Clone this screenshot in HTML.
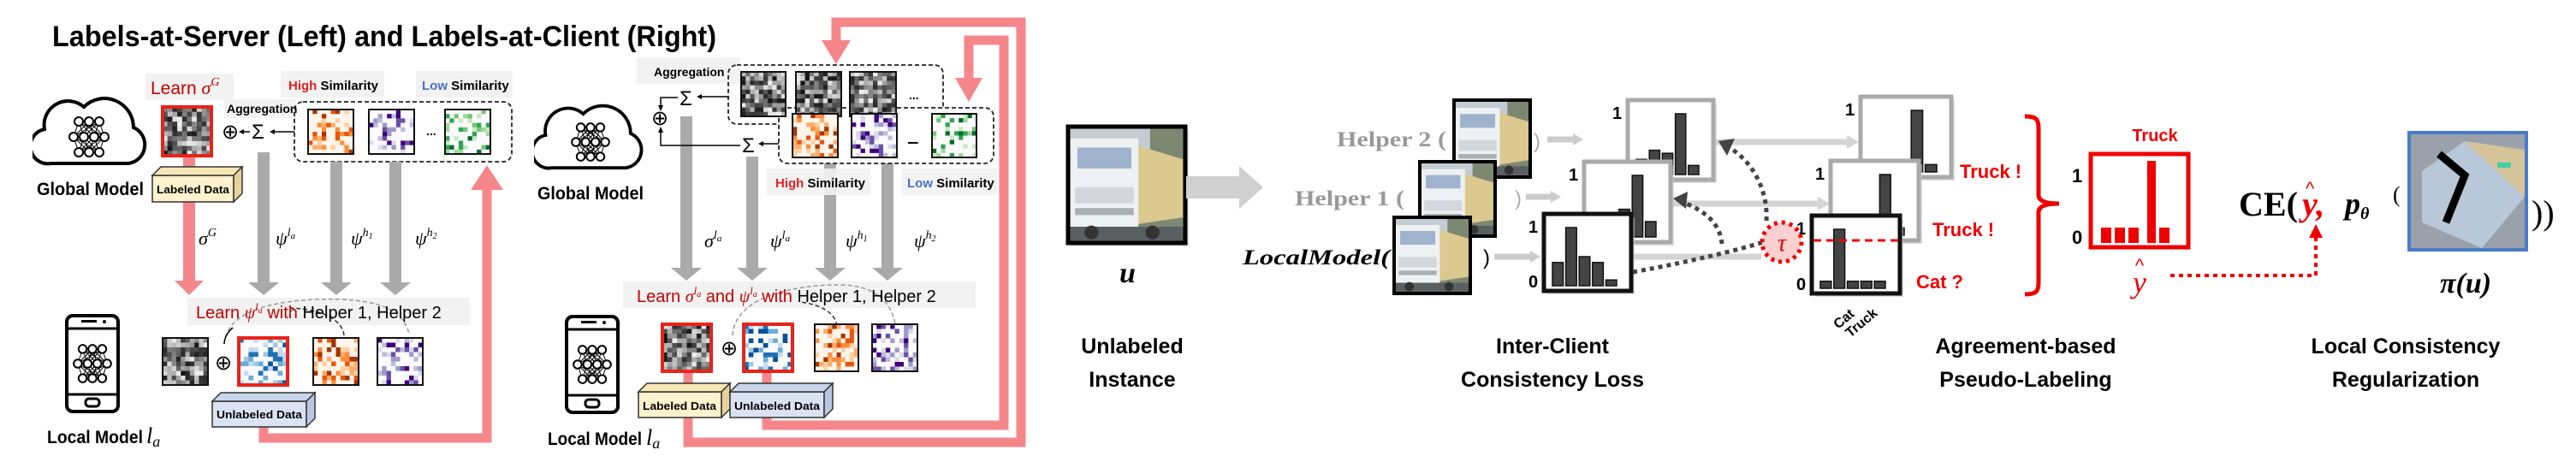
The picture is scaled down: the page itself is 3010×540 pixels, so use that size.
<!DOCTYPE html>
<html><head><meta charset="utf-8"><style>
html,body{margin:0;padding:0;background:#fff;width:3010px;height:540px;overflow:hidden}
svg{display:block}
.b{font-family:"Liberation Sans",sans-serif;font-weight:bold}
.s{font-family:"Liberation Sans",sans-serif}
.m{font-family:"Liberation Serif",serif;font-style:italic}
</style></head><body>
<svg id="S" width="3010" height="540" viewBox="0 0 3010 540" xmlns="http://www.w3.org/2000/svg">
<defs>
<symbol id="truck" viewBox="0 0 100 100" preserveAspectRatio="none">
<rect width="100" height="100" fill="#7d8873"/>
<rect width="70" height="25" fill="#c3ccd2"/>
<polygon points="55,15 98,28 98,78 58,84" fill="#dcc98f"/>
<rect x="2" y="10" width="58" height="78" fill="#eef1f3"/>
<rect x="8" y="18" width="46" height="18" fill="#9fb3cc"/>
<rect x="6" y="52" width="50" height="14" fill="#d3d7db"/>
<rect x="6" y="70" width="50" height="6" fill="#aab0b6"/>
<rect x="0" y="86" width="100" height="14" fill="#5a5f62"/>
<circle cx="20" cy="91" r="6" fill="#333"/><circle cx="72" cy="91" r="6" fill="#333"/>
</symbol>
<symbol id="cloud" viewBox="0 0 140 90">
<path d="M22,86 H112 A22,22 0 0 0 118,44 A34,34 0 0 0 60,20 A28,28 0 0 0 14,46 A20,20 0 0 0 22,86 Z" fill="#fff" stroke="#000" stroke-width="4"/>
</symbol>
<symbol id="phone" viewBox="0 0 66 118">
<rect x="3" y="3" width="60" height="112" rx="7" fill="#fff" stroke="#000" stroke-width="4"/>
<line x1="3" y1="18" x2="63" y2="18" stroke="#000" stroke-width="3"/>
<line x1="3" y1="95" x2="63" y2="95" stroke="#000" stroke-width="3"/>
<rect x="20" y="8" width="18" height="3" fill="#000"/><circle cx="47" cy="10" r="2" fill="#000"/>
<rect x="25" y="100" width="16" height="9" rx="4" fill="none" stroke="#000" stroke-width="3"/>
</symbol>
</defs>

<text x="61" y="54" class="b" font-size="34" textLength="776" lengthAdjust="spacingAndGlyphs">Labels-at-Server (Left)  and  Labels-at-Client (Right)</text>

<!-- LEFT PANEL -->
<use href="#cloud" x="38" y="105" width="140" height="90"/>
<g id="nn1"></g>
<text x="43" y="228" class="b" font-size="21" textLength="125" lengthAdjust="spacingAndGlyphs">Global Model</text>
<rect x="170" y="86" width="103" height="31" fill="#f2f2f2"/>
<text x="176" y="110" class="s" font-size="21" fill="#c00000">Learn <tspan class="m" font-size="22">σ</tspan><tspan class="m" font-size="14" dy="-10">G</tspan></text>
<rect x="328" y="83" width="121" height="31" fill="#f2f2f2"/>
<text x="337" y="105" class="b" font-size="15"><tspan fill="#e02020">High</tspan> Similarity</text>
<rect x="486" y="83" width="113" height="31" fill="#f2f2f2"/>
<text x="493" y="105" class="b" font-size="15"><tspan fill="#4472c4">Low</tspan> Similarity</text>
<rect x="262" y="116" width="84" height="22" fill="#f2f2f2"/>
<text x="265" y="132" class="b" font-size="14">Aggregation</text>
<rect x="344" y="119" width="254" height="70" rx="10" fill="none" stroke="#222" stroke-width="1.8" stroke-dasharray="5,3"/>
<text x="259" y="162" class="s" font-size="24">⊕</text>
<text x="294" y="162" class="s" font-size="24">Σ</text>
<line x1="292" y1="154" x2="282" y2="154" stroke="#000" stroke-width="1.5"/><polygon points="279,154 285,151 285,157"/>
<line x1="344" y1="154" x2="318" y2="154" stroke="#000" stroke-width="1.5"/><polygon points="315,154 321,151 321,157"/>

<polygon points="214,182 228,182 228,328 238,328 221,345 204,328 214,328" fill="#f5878b"/>
<polygon points="301,178 315,178 315,330 326,330 308,345 290,330 301,330" fill="#aaa"/>
<polygon points="386,189 400,189 400,330 411,330 393,345 375,330 386,330" fill="#aaa"/>
<polygon points="455,189 469,189 469,330 480,330 462,345 444,330 455,330" fill="#aaa"/>
<polyline points="308,498 308,512 569,512 569,218" fill="none" stroke="#f5878b" stroke-width="11"/>
<polygon points="569,193 588,222 550,222" fill="#f5878b"/>

<rect x="178" y="205" width="95" height="31" fill="#fff2cc" stroke="#333" stroke-width="1.5"/>
<polygon points="178,205 188,195 283,195 273,205" fill="#f8e7b5" stroke="#333" stroke-width="1.5"/>
<polygon points="273,205 283,195 283,226 273,236" fill="#e6d39c" stroke="#333" stroke-width="1.5"/>
<text x="183" y="226" class="b" font-size="13" textLength="85" lengthAdjust="spacingAndGlyphs">Labeled Data</text>

<text x="232" y="286" class="m" font-size="22">σ<tspan font-size="14" dy="-10">G</tspan></text>
<text x="322" y="286" class="m" font-size="22">ψ<tspan font-size="14" dy="-10">l<tspan font-size="11" dy="3">a</tspan></tspan></text>
<text x="410" y="286" class="m" font-size="22">ψ<tspan font-size="14" dy="-10">h<tspan font-size="10" dy="3">1</tspan></tspan></text>
<text x="485" y="286" class="m" font-size="22">ψ<tspan font-size="14" dy="-10">h<tspan font-size="10" dy="3">2</tspan></tspan></text>

<rect x="219" y="348" width="330" height="32" fill="#f2f2f2"/>
<path d="M262,402 C265,360 330,348 400,350 C440,352 470,360 478,390" fill="none" stroke="#999" stroke-width="1.5" stroke-dasharray="5,3"/>
<path d="M262,402 C262,395 266,388 272,383" fill="none" stroke="#000" stroke-width="1.5"/>
<path d="M402,392 C400,375 380,362 340,360" fill="none" stroke="#333" stroke-width="1.5" stroke-dasharray="5,3"/>
<text x="229" y="372" class="s" font-size="20"><tspan fill="#c00000">Learn </tspan><tspan class="m" fill="#c00000">ψ</tspan><tspan class="m" font-size="13" dy="-9" fill="#c00000">l</tspan><tspan class="m" font-size="10" dy="3" fill="#c00000">a</tspan><tspan dy="6" fill="#c00000">  with </tspan>Helper 1, Helper 2</text>
<text x="251" y="432" class="s" font-size="24">⊕</text>
<use href="#phone" x="75" y="366" width="66" height="118"/>
<g id="nn3"></g>
<text x="55" y="518" class="b" font-size="21" textLength="112" lengthAdjust="spacingAndGlyphs">Local Model</text>
<text x="171" y="518" class="m" font-size="26">l<tspan font-size="18" dy="4">a</tspan></text>

<rect x="248" y="469" width="110" height="30" fill="#dae3f3" stroke="#333" stroke-width="1.5"/>
<polygon points="248,469 258,459 368,459 358,469" fill="#c9d5ec" stroke="#333" stroke-width="1.5"/>
<polygon points="358,469 368,459 368,489 358,499" fill="#b9c7e2" stroke="#333" stroke-width="1.5"/>
<text x="253" y="489" class="b" font-size="13" textLength="100" lengthAdjust="spacingAndGlyphs">Unlabeled Data</text>

<!-- RIGHT PANEL -->
<use href="#cloud" x="624" y="114" width="134" height="86"/>
<g id="nn2"></g>
<text x="628" y="233" class="b" font-size="21" textLength="124" lengthAdjust="spacingAndGlyphs">Global Model</text>
<rect x="744" y="67" width="121" height="31" fill="#f2f2f2"/>
<text x="764" y="89" class="b" font-size="14">Aggregation</text>
<rect x="851" y="76" width="251" height="69" rx="10" fill="none" stroke="#222" stroke-width="1.8" stroke-dasharray="5,3"/>
<polygon points="795,136 809,136 809,313 820,313 802,328 784,313 795,313" fill="#aaa"/>
<polygon points="872,183 886,183 886,313 897,313 879,328 861,313 872,313" fill="#aaa"/>
<polygon points="963,191 977,191 977,313 988,313 970,328 952,313 963,313" fill="#aaa"/>
<polygon points="1030,191 1044,191 1044,313 1055,313 1037,328 1019,313 1030,313" fill="#aaa"/>
<rect x="910" y="126" width="251" height="65" rx="10" fill="#fff" stroke="#222" stroke-width="1.8" stroke-dasharray="5,3"/>
<text x="794" y="123" class="s" font-size="24">Σ</text>
<text x="867" y="178" class="s" font-size="24">Σ</text>
<text x="761" y="146" class="s" font-size="24">⊕</text>
<polyline points="792,114 772,114 772,126" fill="none" stroke="#000" stroke-width="1.5"/><polygon points="772,130 769,123 775,123"/>
<polyline points="865,170 772,170 772,152" fill="none" stroke="#000" stroke-width="1.5"/><polygon points="772,148 769,155 775,155"/>
<line x1="851" y1="113" x2="818" y2="113" stroke="#000" stroke-width="1.5"/><polygon points="814,113 820,110 820,116"/>
<line x1="910" y1="168" x2="890" y2="168" stroke="#000" stroke-width="1.5"/><polygon points="886,168 892,165 892,171"/>
<text x="1062" y="116" class="b" font-size="14">...</text>
<text x="1062" y="168" class="b" font-size="14">...</text>
<rect x="896" y="197" width="121" height="31" fill="#f2f2f2" opacity=".9"/>
<text x="906" y="219" class="b" font-size="15"><tspan fill="#e02020">High</tspan> Similarity</text>
<rect x="1053" y="197" width="112" height="31" fill="#f2f2f2" opacity=".9"/>
<text x="1060" y="219" class="b" font-size="15"><tspan fill="#4472c4">Low</tspan> Similarity</text>

<text x="823" y="289" class="m" font-size="22">σ<tspan font-size="14" dy="-10">l<tspan font-size="11" dy="3">a</tspan></tspan></text>
<text x="900" y="289" class="m" font-size="22">ψ<tspan font-size="14" dy="-10">l<tspan font-size="11" dy="3">a</tspan></tspan></text>
<text x="988" y="289" class="m" font-size="22">ψ<tspan font-size="14" dy="-10">h<tspan font-size="10" dy="3">1</tspan></tspan></text>
<text x="1068" y="289" class="m" font-size="22">ψ<tspan font-size="14" dy="-10">h<tspan font-size="10" dy="3">2</tspan></tspan></text>

<rect x="728" y="329" width="412" height="31" fill="#f2f2f2"/>
<path d="M856,392 C858,350 920,333 980,333 C1020,333 1040,350 1046,378" fill="none" stroke="#999" stroke-width="1.5" stroke-dasharray="5,3"/>
<path d="M978,381 C976,366 960,356 935,353" fill="none" stroke="#333" stroke-width="1.5" stroke-dasharray="5,3"/>
<text x="744" y="353" class="s" font-size="20"><tspan fill="#c00000">Learn </tspan><tspan class="m" fill="#c00000">σ</tspan><tspan class="m" font-size="13" dy="-9" fill="#c00000">l</tspan><tspan class="m" font-size="10" dy="3" fill="#c00000">a</tspan><tspan dy="6" fill="#c00000"> and </tspan><tspan class="m" fill="#c00000">ψ</tspan><tspan class="m" font-size="13" dy="-9" fill="#c00000">l</tspan><tspan class="m" font-size="10" dy="3" fill="#c00000">a</tspan><tspan dy="6" fill="#c00000">  with </tspan>Helper 1, Helper 2</text>
<text x="842" y="415" class="s" font-size="24">⊕</text>

<polyline points="804,434 804,517 1193,517 1193,26 977,26 977,50" fill="none" stroke="#f5878b" stroke-width="11"/>
<polygon points="977,75 960,47 994,47" fill="#f5878b"/>
<polyline points="896,434 896,497 1173,497 1173,47 1132,47 1132,95" fill="none" stroke="#f5878b" stroke-width="11"/>
<polygon points="1132,119 1116,91 1148,91" fill="#f5878b"/>

<rect x="746" y="458" width="97" height="30" fill="#fff2cc" stroke="#333" stroke-width="1.5"/>
<polygon points="746,458 756,448 853,448 843,458" fill="#f8e7b5" stroke="#333" stroke-width="1.5"/>
<polygon points="843,458 853,448 853,478 843,488" fill="#e6d39c" stroke="#333" stroke-width="1.5"/>
<text x="751" y="479" class="b" font-size="13" textLength="86" lengthAdjust="spacingAndGlyphs">Labeled Data</text>
<rect x="853" y="458" width="110" height="30" fill="#dae3f3" stroke="#333" stroke-width="1.5"/>
<polygon points="853,458 863,448 973,448 963,458" fill="#c9d5ec" stroke="#333" stroke-width="1.5"/>
<polygon points="963,458 973,448 973,478 963,488" fill="#b9c7e2" stroke="#333" stroke-width="1.5"/>
<text x="858" y="479" class="b" font-size="13" textLength="100" lengthAdjust="spacingAndGlyphs">Unlabeled Data</text>

<use href="#phone" x="659" y="367" width="66" height="118"/>
<g id="nn4"></g>
<text x="640" y="520" class="b" font-size="21" textLength="110" lengthAdjust="spacingAndGlyphs">Local Model</text>
<text x="755" y="520" class="m" font-size="26">l<tspan font-size="18" dy="4">a</tspan></text>

<g id="mats"></g>

<!-- RIGHT FIGURE -->
<rect x="1252" y="152" width="137" height="136" fill="#ccc" opacity=".5"/>
<use href="#truck" x="1248" y="148" width="137" height="136"/>
<rect x="1248" y="148" width="137" height="136" fill="none" stroke="#000" stroke-width="5"/>
<text x="1308" y="330" font-family="Liberation Serif" font-style="italic" font-weight="bold" font-size="34">u</text>
<polygon points="1386,206 1448,206 1448,194 1476,219 1448,244 1448,232 1386,232" fill="#d0d0d0"/>
<text x="1323" y="413" class="b" font-size="25" text-anchor="middle">Unlabeled</text>
<text x="1323" y="452" class="b" font-size="25" text-anchor="middle">Instance</text>

<line x1="2004" y1="166" x2="2160" y2="166" stroke="#d4d4d4" stroke-width="7"/><polygon points="2172,166 2158,158 2158,174" fill="#d4d4d4"/>
<line x1="1954" y1="238" x2="2126" y2="238" stroke="#d4d4d4" stroke-width="7"/><polygon points="2138,238 2124,230 2124,246" fill="#d4d4d4"/>
<line x1="1908" y1="300" x2="2058" y2="300" stroke="#d4d4d4" stroke-width="7"/>

<text x="1562" y="171" font-family="Liberation Serif" font-weight="bold" font-size="25" fill="#999" textLength="128" lengthAdjust="spacingAndGlyphs">Helper 2 (</text>
<text x="1513" y="240" font-family="Liberation Serif" font-weight="bold" font-size="25" fill="#999" textLength="128" lengthAdjust="spacingAndGlyphs">Helper 1 (</text>
<text x="1452" y="309" font-family="Liberation Serif" font-style="italic" font-weight="bold" font-size="25" textLength="172" lengthAdjust="spacingAndGlyphs">LocalModel(</text>
<use href="#truck" x="1699" y="117" width="89" height="90"/><rect x="1699" y="117" width="89" height="90" fill="none" stroke="#000" stroke-width="4"/>
<text x="1792" y="173" class="s" font-size="24" fill="#aaa">)</text>
<line x1="1808" y1="163" x2="1840" y2="163" stroke="#ccc" stroke-width="7"/><polygon points="1850,163 1838,156 1838,170" fill="#ccc"/>
<use href="#truck" x="1659" y="189" width="88" height="87"/><rect x="1659" y="189" width="88" height="87" fill="none" stroke="#000" stroke-width="4"/>
<text x="1770" y="240" class="s" font-size="24" fill="#aaa">)</text>
<line x1="1783" y1="230" x2="1814" y2="230" stroke="#ccc" stroke-width="7"/><polygon points="1824,230 1812,223 1812,237" fill="#ccc"/>
<use href="#truck" x="1629" y="254" width="89" height="89"/><rect x="1629" y="254" width="89" height="89" fill="none" stroke="#000" stroke-width="4"/>
<text x="1733" y="309" class="s" font-size="24">)</text>
<line x1="1746" y1="300" x2="1790" y2="300" stroke="#ccc" stroke-width="7"/><polygon points="1800,300 1788,293 1788,307" fill="#ccc"/>

<g id="hists"></g>

<path d="M1908,318 C1980,305 2040,290 2070,280" fill="none" stroke="#444" stroke-width="5" stroke-dasharray="5,5"/>
<path d="M2012,285 C2010,260 1990,245 1965,236" fill="none" stroke="#444" stroke-width="5" stroke-dasharray="5,5"/>
<polygon points="1955,232 1972,224 1970,244" fill="#444"/>
<path d="M2064,258 C2066,225 2050,190 2020,172" fill="none" stroke="#444" stroke-width="5" stroke-dasharray="5,5"/>
<polygon points="2008,165 2027,162 2018,182" fill="#444"/>
<circle cx="2082" cy="283" r="23" fill="#fbd0d0" stroke="#e00" stroke-width="5" stroke-dasharray="4,5"/>
<text x="2082" y="293" text-anchor="middle" class="m" font-size="28" fill="#d00">τ</text>

<text x="1814" y="413" class="b" font-size="25" text-anchor="middle">Inter-Client</text>
<text x="1814" y="452" class="b" font-size="25" text-anchor="middle">Consistency Loss</text>

<text x="2148" y="385" class="b" font-size="16" transform="rotate(-40 2148 385)">Cat</text>
<text x="2162" y="395" class="b" font-size="16" transform="rotate(-40 2162 395)">Truck</text>
<text x="2290" y="208" class="b" font-size="22" fill="#e00">Truck !</text>
<text x="2258" y="276" class="b" font-size="22" fill="#e00">Truck !</text>
<text x="2239" y="337" class="b" font-size="22" fill="#e00">Cat ?</text>
<path d="M2366,136 C2380,136 2382,140 2382,150 L2382,228 C2382,234 2388,238 2406,238 C2388,238 2382,242 2382,248 L2382,330 C2382,340 2380,344 2366,344" fill="none" stroke="#e00" stroke-width="5"/>
<text x="2518" y="165" text-anchor="middle" class="b" font-size="20" fill="#e00">Truck</text>
<rect x="2443" y="180" width="114" height="109" fill="#fff" stroke="#e00" stroke-width="5"/>
<text x="2421" y="213" class="b" font-size="22">1</text>
<text x="2421" y="285" class="b" font-size="22">0</text>
<g fill="#e00">
<rect x="2455" y="266" width="12" height="18"/><rect x="2471" y="266" width="12" height="18"/><rect x="2487" y="266" width="12" height="18"/><rect x="2509" y="188" width="10" height="96"/><rect x="2523" y="266" width="12" height="18"/></g>
<text x="2500" y="342" text-anchor="middle" class="m" font-size="36" fill="#e00">y</text>
<text x="2500" y="318" text-anchor="middle" class="s" font-size="22" fill="#e00">^</text>
<polyline points="2536,322 2706,322 2706,275" fill="none" stroke="#e00" stroke-width="4" stroke-dasharray="5,5"/>
<polygon points="2706,262 2698,278 2714,278" fill="#e00"/>
<text x="2616" y="252" font-family="Liberation Serif" font-weight="bold" font-size="40">CE(</text>
<text x="2690" y="252" class="m" font-size="40" font-weight="bold" fill="#e00">y,</text>
<text x="2694" y="228" class="s" font-size="22" fill="#e00">^</text>
<text x="2740" y="250" class="m" font-size="36" font-weight="bold">p<tspan font-size="20" dy="6">θ</tspan></text>
<text x="2796" y="236" font-family="Liberation Serif" font-size="26">(</text>
<rect x="2815" y="155" width="137" height="137" fill="#9aa1aa" stroke="#4a7cc8" stroke-width="4"/>
<polygon points="2830,200 2880,165 2950,230 2900,290 2830,260" fill="#b8c8d8"/>
<polygon points="2880,165 2950,175 2950,230" fill="#d6c39a"/>
<polyline points="2850,180 2880,205 2858,260" fill="none" stroke="#000" stroke-width="9"/>
<rect x="2918" y="190" width="16" height="6" fill="#40d0a8"/>
<text x="2958" y="262" font-family="Liberation Serif" font-size="40">))</text>
<text x="2881" y="342" text-anchor="middle" font-family="Liberation Serif" font-style="italic" font-weight="bold" font-size="34">π(u)</text>

<text x="2367" y="413" class="b" font-size="25" text-anchor="middle">Agreement-based</text>
<text x="2367" y="452" class="b" font-size="25" text-anchor="middle">Pseudo-Labeling</text>
<text x="2811" y="413" class="b" font-size="25" text-anchor="middle">Local Consistency</text>
<text x="2811" y="452" class="b" font-size="25" text-anchor="middle">Regularization</text>
</svg>
<script>
(function(){
var NS="http://www.w3.org/2000/svg";
function el(p,t,a){var e=document.createElementNS(NS,t);for(var k in a)e.setAttribute(k,a[k]);p.appendChild(e);return e;}
var seed=7;function r(){seed=(seed*9301+49297)%233280;return seed/233280;}
var pals={
o:['#fdd0a2','#fdae6b','#fd8d3c','#e6550d','#a63603'],
p:['#dadaeb','#bcbddc','#9e9ac8','#6a51a3','#3f007d'],
g:['#c7e9c0','#a1d99b','#74c476','#31a354','#006d2c'],
b:['#c6dbef','#9ecae1','#6baed6','#2171b5','#08519c']};
var M=document.getElementById('mats');
function mat(x,y,w,h,pal,red){
 var n=10,cw=w/n,ch=h/n;
 for(var i=0;i<n;i++)for(var j=0;j<n;j++){
  var c;
  if(pal=='k'){var v=Math.floor(20+r()*220);c='rgb('+v+','+v+','+v+')';}
  else{var q=r();if(q<0.55)c=(pal=='o'?'#fff5eb':'#fbfbfd');
   else c=pals[pal][Math.floor(r()*5)];}
  el(M,'rect',{x:x+j*cw,y:y+i*ch,width:cw+0.3,height:ch+0.3,fill:c});
 }
 el(M,'rect',{x:x,y:y,width:w,height:h,fill:'none',stroke:red?'#e8231a':'#111','stroke-width':red?4:2});
}
mat(190,125,57,57,'k',1);
mat(360,128,53,52,'o');mat(431,128,53,52,'p');mat(520,128,53,52,'g');
el(M,'text',{x:498,y:158,'font-size':14,'font-weight':'bold','font-family':'Liberation Sans'}).textContent='...';
mat(190,395,53,55,'k');mat(279,395,57,55,'b',1);mat(366,395,53,55,'o');mat(441,395,53,55,'p');
mat(866,84,52,52,'k');mat(930,84,53,52,'k');mat(993,84,54,52,'k');
mat(926,133,53,51,'o');mat(995,133,53,51,'p');mat(1089,133,52,51,'g');
el(M,'text',{x:1060,y:168,'font-size':14,'font-weight':'bold','font-family':'Liberation Sans'}).textContent='...';
mat(774,379,57,55,'k',1);mat(869,379,57,55,'b',1);mat(952,379,51,55,'o');mat(1019,379,53,55,'p');
function nn(id,cx,cy,s){var g=document.getElementById(id);
 var L=[[-1,0,1],[-1.5,-0.5,0.5,1.5],[-1,0,1]];var pts=[];
 for(var l=0;l<3;l++){pts[l]=[];for(var k=0;k<L[l].length;k++)pts[l].push([cx+L[l][k]*12*s,cy+(l-1)*18*s]);}
 for(var l=0;l<2;l++)pts[l].forEach(function(a){pts[l+1].forEach(function(b){el(g,'line',{x1:a[0],y1:a[1],x2:b[0],y2:b[1],stroke:'#000','stroke-width':1});});});
 pts.forEach(function(ly){ly.forEach(function(p){el(g,'circle',{cx:p[0],cy:p[1],r:5*s,fill:'#fff',stroke:'#000','stroke-width':2});});});
}
nn('nn1',104,160,1);nn('nn2',690,166,0.95);nn('nn3',108,425,0.95);nn('nn4',692,426,0.95);
var H=document.getElementById('hists');
function hist(x,y,w,h,col,sw,bars,one,zero){
 el(H,'rect',{x:x+4,y:y+4,width:w,height:h,fill:'#ccc',opacity:.6});
 el(H,'rect',{x:x,y:y,width:w,height:h,fill:'#fff',stroke:col,'stroke-width':sw});
 var bw=(w-24)/5-3;
 for(var i=0;i<5;i++){var bh=bars[i]*(h-22);el(H,'rect',{x:x+10+i*(bw+3),y:y+h-6-bh,width:bw,height:bh,fill:'#444',stroke:'#111','stroke-width':1.5});}
 if(one){el(H,'text',{x:x-18,y:y+22,'font-size':20,'font-weight':'bold','font-family':'Liberation Sans'}).textContent='1';}
 if(zero){el(H,'text',{x:x-18,y:y+h-4,'font-size':20,'font-weight':'bold','font-family':'Liberation Sans'}).textContent='0';}
}
hist(1902,117,100,93,'#aaa',5,[.25,.4,.35,1,.15],1);
hist(1851,189,101,94,'#aaa',5,[.2,.3,.45,1,.25],1);
hist(1804,250,102,90,'#111',5,[.4,1,.5,.4,.1],1,1);
hist(2174,113,106,94,'#aaa',5,[.06,.06,.06,1,.12],1);
hist(2139,188,103,93,'#aaa',5,[.06,.06,.06,1,.12],1);
hist(2117,252,103,91,'#111',5,[.12,1,.12,.12,.12],1,1);
el(H,'line',{x1:2119,y1:281,x2:2220,y2:281,stroke:'#e00','stroke-width':3,'stroke-dasharray':'9,6'});
})();
</script>
</body></html>
